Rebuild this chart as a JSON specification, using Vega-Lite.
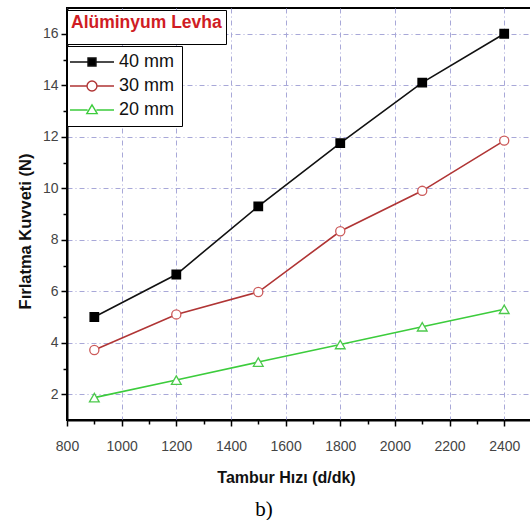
{
  "$schema": "https://vega.github.io/schema/vega-lite/v6.json",
  "autosize": {"type": "none"},
  "padding": {"left": 67, "top": 8, "right": 0, "bottom": 100},
  "width": 470,
  "height": 412,
  "background": "white",
  "title": {"text": "b)", "orient": "bottom", "font": "Liberation Serif", "fontSize": 21, "fontWeight": "normal", "color": "#000", "offset": 14, "anchor": "middle", "dx": -38},
  "config": {
    "view": {"stroke": "#000", "strokeWidth": 2},
    "font": "Liberation Sans",
    "axis": {"grid": false, "domainColor": "#000", "domainWidth": 2, "tickColor": "#000", "tickWidth": 1.5, "labelFont": "Liberation Sans", "labelFontSize": 14, "labelColor": "#444", "titleFont": "Liberation Sans", "titleFontSize": 16, "titleFontWeight": "bold", "titleColor": "#111"},
    "legend": {"labelFont": "Liberation Sans"}
  },
  "data": {"values": [
    {"speed": 900, "force": 5.0, "series": "40 mm"},
    {"speed": 1200, "force": 6.65, "series": "40 mm"},
    {"speed": 1500, "force": 9.3, "series": "40 mm"},
    {"speed": 1800, "force": 11.75, "series": "40 mm"},
    {"speed": 2100, "force": 14.1, "series": "40 mm"},
    {"speed": 2400, "force": 16.0, "series": "40 mm"},
    {"speed": 900, "force": 3.72, "series": "30 mm"},
    {"speed": 1200, "force": 5.1, "series": "30 mm"},
    {"speed": 1500, "force": 5.97, "series": "30 mm"},
    {"speed": 1800, "force": 8.33, "series": "30 mm"},
    {"speed": 2100, "force": 9.9, "series": "30 mm"},
    {"speed": 2400, "force": 11.85, "series": "30 mm"},
    {"speed": 900, "force": 1.87, "series": "20 mm"},
    {"speed": 1200, "force": 2.55, "series": "20 mm"},
    {"speed": 1500, "force": 3.25, "series": "20 mm"},
    {"speed": 1800, "force": 3.93, "series": "20 mm"},
    {"speed": 2100, "force": 4.62, "series": "20 mm"},
    {"speed": 2400, "force": 5.3, "series": "20 mm"}
  ]},
  "layer": [
    {
      "mark": {"type": "line", "strokeWidth": 1.6},
      "encoding": {
        "x": {"field": "speed", "type": "quantitative", "scale": {"domain": [800, 2520], "nice": false, "zero": false},
          "axis": {"values": [800, 1000, 1200, 1400, 1600, 1800, 2000, 2200, 2400], "format": "d", "tickSize": 6, "labelPadding": 13, "title": "Tambur Hızı (d/dk)", "titleX": 219, "titlePadding": 16, "grid": true, "gridColor": "#a8a8d8", "gridDash": [5, 3, 1, 3], "gridWidth": 1, "labelFlush": false}},
        "y": {"field": "force", "type": "quantitative", "scale": {"domain": [1, 17], "nice": false, "zero": false},
          "axis": {"values": [2, 4, 6, 8, 10, 12, 14, 16], "tickSize": 6, "labelPadding": 3, "title": "Fırlatma Kuvveti (N)", "titleFontSize": 16.5, "titleY": 223, "titlePadding": 9, "grid": true, "gridColor": "#a8a8d8", "gridDash": [5, 3, 1, 3], "gridWidth": 1, "labelFlush": false}},
        "detail": {"field": "series"},
        "stroke": {"field": "series", "type": "nominal", "scale": {"domain": ["40 mm", "30 mm", "20 mm"], "range": ["#111111", "#b03535", "#3ccc3c"]}, "legend": null}
      }
    },
    {
      "mark": {"type": "point", "strokeWidth": 1.3, "opacity": 1},
      "encoding": {
        "x": {"field": "speed", "type": "quantitative", "axis": {"orient": "bottom", "values": [900, 1100, 1300, 1500, 1700, 1900, 2100, 2300, 2500], "tickSize": 4, "labels": false, "domain": false, "title": null, "grid": false}},
        "y": {"field": "force", "type": "quantitative", "axis": {"orient": "left", "values": [3, 5, 7, 9, 11, 13, 15], "tickSize": 4, "labels": false, "domain": false, "title": null, "grid": false}},
        "shape": {"field": "series", "type": "nominal", "scale": {"domain": ["40 mm", "30 mm", "20 mm"], "range": ["square", "circle", "triangle-up"]}, "legend": null},
        "fill": {"field": "series", "type": "nominal", "scale": {"domain": ["40 mm", "30 mm", "20 mm"], "range": ["#000000", "#ffffff", "#ffffff"]}, "legend": null},
        "stroke": {"field": "series", "type": "nominal", "scale": {"domain": ["40 mm", "30 mm", "20 mm"], "range": ["#000000", "#cc5a5a", "#4cc94c"]}, "legend": null},
        "size": {"field": "series", "type": "nominal", "scale": {"domain": ["40 mm", "30 mm", "20 mm"], "range": [72, 95, 110]}, "legend": null}
      }
    },
    {
      "mark": {"type": "point", "strokeWidth": 1.4, "filled": false, "size": 0},
      "encoding": {
        "x": {"field": "speed", "type": "quantitative", "axis": null},
        "y": {"field": "force", "type": "quantitative", "axis": null},
        "shape": {"field": "series", "type": "nominal",
          "scale": {"domain": ["40 mm", "30 mm", "20 mm"], "range": [
            "M-2.75,0H-0.5M0.5,0H2.75M-0.5,-0.5H0.5V0.5H-0.5Z",
            "M-2.75,0H-0.62M0.62,0H2.75M0.62,0A0.62,0.62 0 1,1 -0.62,0A0.62,0.62 0 1,1 0.62,0Z",
            "M-2.75,0H-0.55M0.55,0H2.75M0,-0.65L0.65,0.45H-0.65Z"]},
          "legend": {"orient": "none", "legendX": 0, "legendY": 38, "title": null, "symbolSize": 256, "symbolStrokeWidth": 1.4, "symbolOpacity": 1, "labelFontSize": 18, "labelColor": "#111", "symbolOffset": 9, "labelOffset": 18, "rowPadding": 6, "padding": 7, "strokeColor": "#000", "fillColor": "#fff"}},
        "fill": {"field": "series", "type": "nominal", "scale": {"domain": ["40 mm", "30 mm", "20 mm"], "range": ["#000000", "#ffffff", "#ffffff"]}},
        "stroke": {"field": "series", "type": "nominal", "scale": {"domain": ["40 mm", "30 mm", "20 mm"], "range": ["#111111", "#b03535", "#3ccc3c"]}},
        "opacity": {"datum": "Alüminyum Levha", "type": "ordinal", "scale": {"range": [0]},
          "legend": {"orient": "none", "legendX": 0, "legendY": 2, "title": "Alüminyum Levha", "titleColor": "#d01c24", "titleFontSize": 17.5, "titleLineHeight": 14, "titleFontWeight": "bold", "titleFont": "Liberation Sans", "titlePadding": 0, "labelExpr": "''", "labelFontSize": 0, "symbolSize": 0, "rowPadding": 0, "padding": 4, "strokeColor": "#000", "fillColor": "#fff"}}
      }
    }
  ],
  "resolve": {"scale": {"shape": "independent", "fill": "independent", "stroke": "independent", "size": "independent", "opacity": "independent"}, "axis": {"x": "independent", "y": "independent"}}
}
